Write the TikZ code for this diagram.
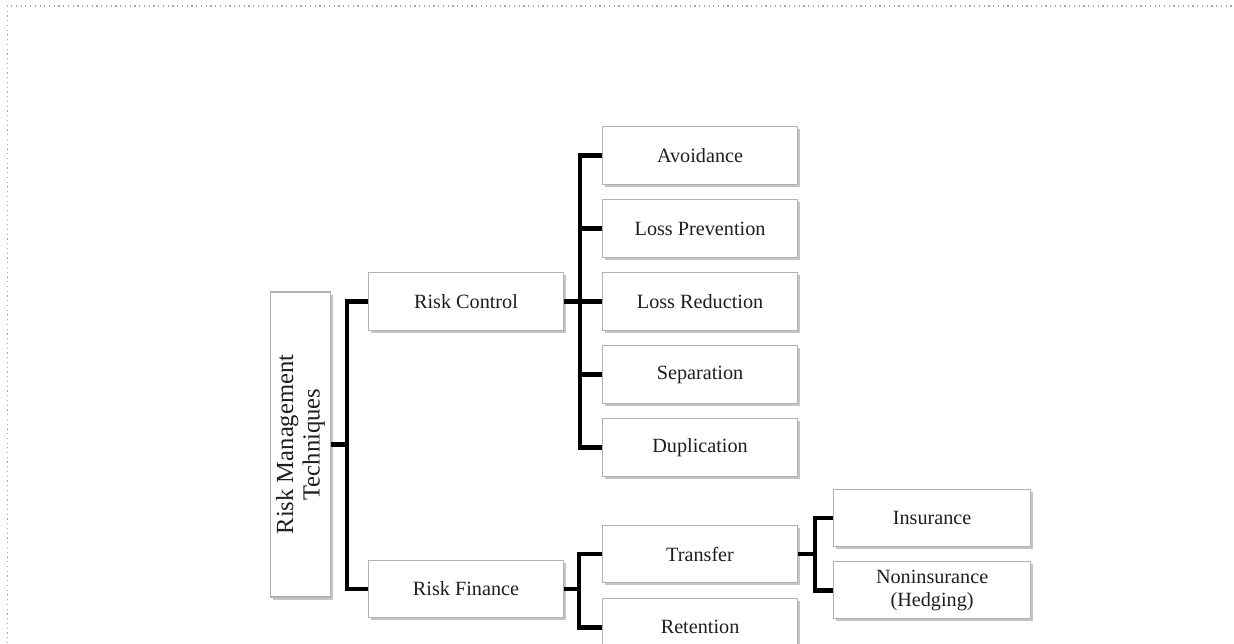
\documentclass[tikz,border=0pt]{standalone}
\usepackage{fontspec}
\setmainfont{Liberation Serif}
\usepackage{xcolor}
\usepackage{tikz}
\usetikzlibrary{positioning, shadows}
\definecolor{boxline}{RGB}{178,178,178}
\definecolor{textgray}{RGB}{30,30,30}

\begin{document}
\begin{tikzpicture}[
  leaf/.style={rectangle, draw=boxline, line width=0.6pt, fill=white, minimum width=3.9cm, minimum height=1.15cm, align=center, text=textgray, font=\fontsize{11.5}{13}\selectfont, drop shadow={shadow xshift=0.05cm, shadow yshift=-0.05cm, fill=black!45}},
  rootbox/.style={leaf, minimum width=6.1cm, minimum height=1.18cm, rotate=90, font=\fontsize{14}{15}\selectfont},
  link/.style={line width=2.6pt, draw=black},
  frame/.style={dotted, line width=0.7pt, draw=black!35}
]
\useasboundingbox (0,0) rectangle (24.68,-12.86);
\draw[frame] (0.15,-12.86) -- (0.15,-0.12) -- (24.68,-0.12);

\node[rootbox] (rmt) at (6.01,-8.89) {Risk Management\\Techniques};
\node[leaf] (rc) at (9.32,-6.03) {Risk Control};
\node[leaf] (rf) at (9.32,-11.78) {Risk Finance};

\node[leaf, right=0.76cm of rc] (lr) {Loss Reduction};
\node[leaf, above=0.29cm of lr] (lp) {Loss Prevention};
\node[leaf, above=0.29cm of lp] (av) {Avoidance};
\node[leaf, below=0.29cm of lr] (sep) {Separation};
\node[leaf, below=0.29cm of sep] (dup) {Duplication};
\node[leaf, below=0.96cm of dup] (tr) {Transfer};
\node[leaf, below=0.29cm of tr] (ret) {Retention};

\node[leaf, minimum width=3.94cm, minimum height=1.14cm, right=0.7cm of tr, yshift=0.72cm] (ins) {Insurance};
\node[leaf, minimum width=3.94cm, minimum height=1.14cm, below=0.28cm of ins] (non) {Noninsurance\\(Hedging)};

% root to risk control / risk finance
\draw[link] (rmt.south) -- ++(0.36,0);
\draw[link] (rc.west) -- ++(-0.42,0) |- (rf.west);

% risk control branch
\draw[link] (av.west) -- ++(-0.44,0) |- (dup.west);
\draw[link] (lp.west) -- ++(-0.44,0);
\draw[link] (sep.west) -- ++(-0.44,0);
\draw[link] (rc.east) -- (lr.west);

% risk finance branch
\draw[link] (tr.west) -- ++(-0.46,0) |- (ret.west);
\draw[link] (rf.east) -- ++(0.32,0);

% transfer branch
\draw[link] (ins.west) -- ++(-0.36,0) |- (non.west);
\draw[link] (tr.east) -- ++(0.34,0);
\end{tikzpicture}
\end{document}
